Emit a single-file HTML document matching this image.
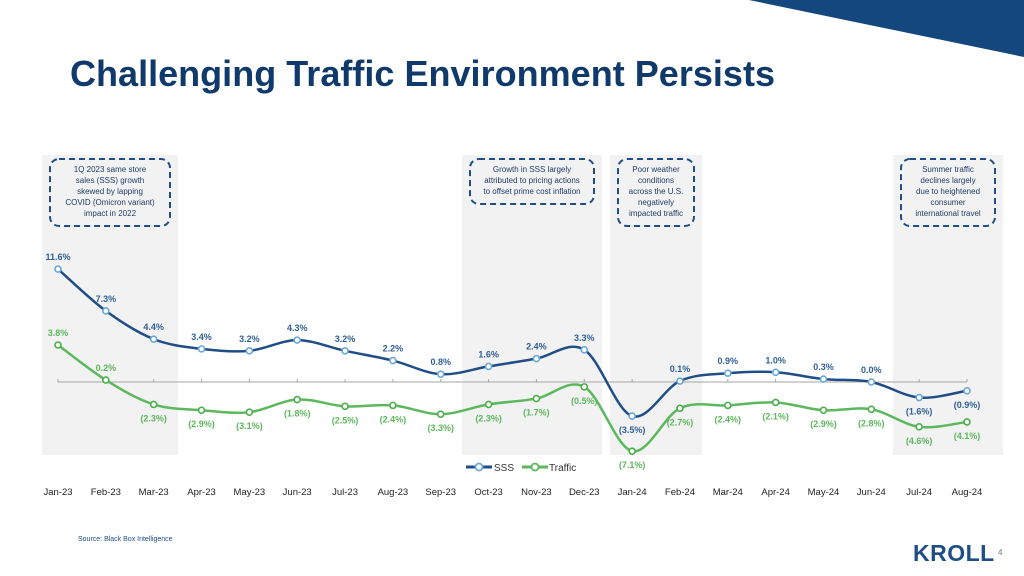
<!DOCTYPE html>
<html><head><meta charset="utf-8">
<style>
body{margin:0;width:1024px;height:576px;overflow:hidden;background:#fff;font-family:"Liberation Sans",sans-serif;}
svg{position:absolute;left:0;top:0}
</style></head><body>
<svg width="1024" height="576">
<polygon points="749,0 1024,0 1024,57" fill="#14477d"/>
<text x="70" y="86" font-size="36" font-weight="bold" fill="#0f3a6b" textLength="705">Challenging Traffic Environment Persists</text>
<g id="shades"></g>
<g id="notes"></g>
<line x1="58" y1="382" x2="967" y2="382" stroke="#a6a6a6" stroke-width="1"/>
<g id="ticks"></g>
<g id="series"></g>
<g id="labels"></g>
<g id="xlabels"></g>
<g>
<line x1="466" y1="467" x2="492" y2="467" stroke="#1f4e87" stroke-width="3"/>
<circle cx="479" cy="467" r="3.5" fill="#fff" stroke="#6aa8d8" stroke-width="1.8"/>
<text x="494" y="471" font-size="10" fill="#333">SSS</text>
<line x1="522" y1="467" x2="548" y2="467" stroke="#5cb85c" stroke-width="3"/>
<circle cx="535" cy="467" r="3.5" fill="#fff" stroke="#5cb85c" stroke-width="1.8"/>
<text x="549" y="471" font-size="10" fill="#333">Traffic</text>
</g>
<text x="78" y="541" font-size="7" fill="#1f4e87">Source: Black Box Intelligence</text>
<text x="913" y="561" font-size="23" font-weight="bold" fill="#1f4e87" letter-spacing="0.5">KROLL</text>
<text x="998" y="555" font-size="8" fill="#777">4</text>
</svg>
<script>
const categories=["Jan-23","Feb-23","Mar-23","Apr-23","May-23","Jun-23","Jul-23","Aug-23","Sep-23","Oct-23","Nov-23","Dec-23","Jan-24","Feb-24","Mar-24","Apr-24","May-24","Jun-24","Jul-24","Aug-24"];
const sss=[11.6,7.3,4.4,3.4,3.2,4.3,3.2,2.2,0.8,1.6,2.4,3.3,-3.5,0.1,0.9,1.0,0.3,0.0,-1.6,-0.9];
const traffic=[3.8,0.2,-2.3,-2.9,-3.1,-1.8,-2.5,-2.4,-3.3,-2.3,-1.7,-0.5,-7.1,-2.7,-2.4,-2.1,-2.9,-2.8,-4.6,-4.1];
const shadeRanges=[[0,2],[9,11],[12,13],[18,19]];
const notes=[["1Q 2023 same store","sales (SSS) growth","skewed by lapping","COVID (Omicron variant)","impact in 2022"],["Growth in SSS largely","attributed to pricing actions","to offset prime cost inflation"],["Poor weather","conditions","across the U.S.","negatively","impacted traffic"],["Summer traffic","declines largely","due to heightened","consumer","international travel"]];
const NS="http://www.w3.org/2000/svg";
const x=i=>58+i*(967-58)/19;
const y=v=>382-v*9.74;
function mk(tag,attrs,parent){const e=document.createElementNS(NS,tag);for(const k in attrs)e.setAttribute(k,attrs[k]);document.getElementById(parent).appendChild(e);return e;}
const fmt=v=>v<0?"("+Math.abs(v).toFixed(1)+"%)":v.toFixed(1)+"%";
const shadeBox=[[42,178],[462,602],[610,702],[893,1003]];
shadeRanges.forEach((r,k)=>{
 const sx0=Math.min(shadeBox[k][0],x(r[0])-16), sx1=shadeBox[k][1];
 const s=mk("rect",{x:sx0,y:155,width:sx1-sx0,height:300,fill:"#f2f2f2"},"shades");
 
 
 const n=notes[k];const bw=sx1-sx0-16;const bh=n.length*11+12;
 const b=mk("rect",{x:sx0+8,y:159,width:bw,height:bh,rx:9,fill:"none",stroke:"#1f4e87","stroke-width":2,"stroke-dasharray":"6,4"},"notes");
 
 
 n.forEach((line,j)=>{const t=mk("text",{x:sx0+8+bw/2,y:172+j*11,"font-size":8,fill:"#1f3c66","text-anchor":"middle"},"notes");t.textContent=line;
 
 });
});
categories.forEach((c,i)=>{
 mk("line",{x1:x(i),y1:379,x2:x(i),y2:382,stroke:"#a6a6a6"},"ticks");
 const t=mk("text",{x:x(i),y:495,"font-size":9.5,fill:"#222","text-anchor":"middle"},"xlabels");t.textContent=c;
 
 
});
function path(vals){const p=vals.map((v,i)=>[x(i),y(v)]);let d="M"+p[0][0]+","+p[0][1];
 for(let i=0;i<p.length-1;i++){const p0=p[Math.max(0,i-1)],p1=p[i],p2=p[i+1],p3=p[Math.min(p.length-1,i+2)];
 const c1=[p1[0]+(p2[0]-p0[0])/6,p1[1]+(p2[1]-p0[1])/6],c2=[p2[0]-(p3[0]-p1[0])/6,p2[1]-(p3[1]-p1[1])/6];
 d+=" C"+c1+" "+c2+" "+p2;}return d;}
function draw(vals,col,mcol,lcol,name,above){
 const l=mk("path",{d:path(vals),fill:"none",stroke:col,"stroke-width":2.5},"series");
 
 
 vals.forEach((v,i)=>{const c=mk("circle",{cx:x(i),cy:y(v),r:3,fill:"#fff",stroke:mcol,"stroke-width":1.6},"series");
 
 
 const up=above(v,i);
 const t=mk("text",{x:x(i),y:up?y(v)-9:y(v)+17,"font-size":9,"font-weight":"bold",fill:lcol,"text-anchor":"middle"},"labels");t.textContent=fmt(v);
 
 });
}
draw(sss,"#1f4e87","#6aa8d8","#2f5f96","sss",(v)=>v>=0);
draw(traffic,"#5cb85c","#4cae4c","#5cb85c","traffic",(v,i)=>i<2);
</script>
</body></html>
